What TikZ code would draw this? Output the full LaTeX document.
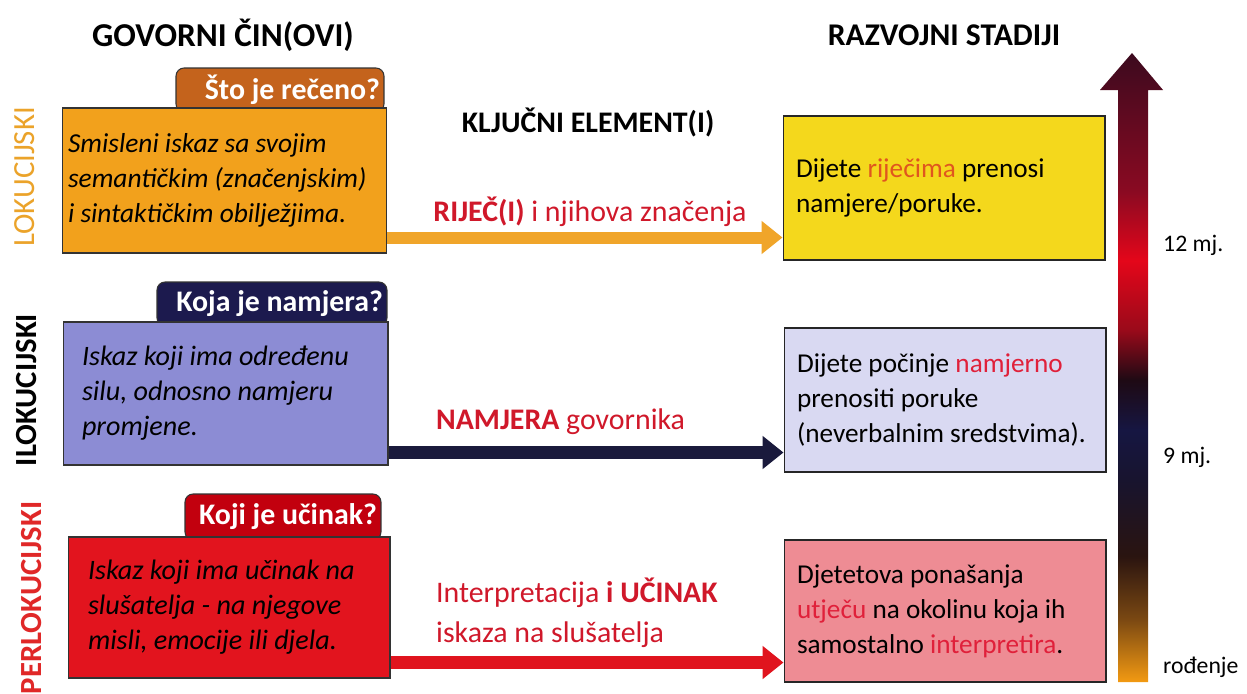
\documentclass[tikz,border=0pt]{standalone}
\usepackage{fontspec}
\setmainfont{Carlito}
\usepackage{xcolor}
\usepackage{tikz}
\usetikzlibrary{arrows.meta, positioning, calc}
\definecolor{lokorange}{HTML}{F2A11C}
\definecolor{loktab}{HTML}{C4631C}
\definecolor{loklabel}{HTML}{EBA32A}
\definecolor{ilokpurple}{HTML}{8C8CD4}
\definecolor{iloktab}{HTML}{1C1A4E}
\definecolor{perlokred}{HTML}{E2141E}
\definecolor{perloktab}{HTML}{C2000E}
\definecolor{perloklabel}{HTML}{E02828}
\definecolor{stageyellow}{HTML}{F4D81C}
\definecolor{stagelilac}{HTML}{D9D9F2}
\definecolor{stagepink}{HTML}{EE8C94}
\definecolor{keyred}{HTML}{D0182A}
\definecolor{wordorange}{HTML}{E0561E}
\definecolor{wordred}{HTML}{E0203A}
\definecolor{arrorange}{HTML}{F0A52A}
\definecolor{arrnavy}{HTML}{1A1A3C}
\definecolor{arrred}{HTML}{E0141E}
% colours of the age scale
\definecolor{agebottom}{HTML}{F39A12}
\definecolor{agebrown}{HTML}{7A4812}
\definecolor{agedarkbrown}{HTML}{2A1410}
\definecolor{agenight}{HTML}{18142E}
\definecolor{agenavy}{HTML}{161642}
\definecolor{ageblack}{HTML}{1E0A14}
\definecolor{agedeepred}{HTML}{9A0A1A}
\definecolor{agered}{HTML}{E4061A}
\definecolor{agewine}{HTML}{8A0A22}
\definecolor{agetop}{HTML}{3C0A1E}
\pgfdeclareverticalshading{stadiji}{100bp}{%
  color(0bp)=(agebottom); color(25bp)=(agebottom); color(30bp)=(agebrown);
  color(35bp)=(agedarkbrown); color(41bp)=(agenight); color(45bp)=(agenavy);
  color(49bp)=(ageblack); color(53bp)=(agedeepred); color(58.5bp)=(agered);
  color(64bp)=(agewine); color(75bp)=(agetop); color(100bp)=(agetop)}
\tikzstyle{heading} = [font=\fontsize{19}{22}\selectfont\bfseries]
\tikzstyle{sidelabel} = [rotate=90, font=\fontsize{17.5}{20}\selectfont]
\tikzstyle{acttab} = [rectangle, rounded corners=0.16cm, draw=black!80, line width=0.6pt, text=white, align=flush right, inner xsep=0.08cm, font=\fontsize{17}{20}\selectfont\bfseries]
\tikzstyle{actbox} = [rectangle, draw=black!80, line width=0.6pt, align=flush left, font=\fontsize{16}{20}\selectfont\itshape]
\tikzstyle{stagebox} = [rectangle, draw=black!85, line width=0.6pt, align=flush left, minimum width=6.44cm, text width=5.92cm, inner xsep=0.26cm, font=\fontsize{15.5}{20}\selectfont]
\tikzstyle{keylabel} = [text=keyred, font=\fontsize{17}{22.5}\selectfont]
\tikzstyle{keyarrow} = [line width=0.26cm, -{Triangle[length=0.42cm,width=0.64cm]}]
\tikzstyle{age} = [anchor=west, font=\fontsize{13.5}{16}\selectfont]

\begin{document}
\begin{tikzpicture}[x=0.02cm, y=-0.02cm]
    \clip (0,0) rectangle (1247,693);
    \fill[white] (0,0) rectangle (1247,693);

    % Headings
    \node[heading] (govor) at (223,35) {GOVORNI ČIN(OVI)};
    \node[heading, font=\fontsize{18}{21}\selectfont\bfseries] (razvoj) at (944,35) {RAZVOJNI STADIJI};
    \node[heading, font=\fontsize{17}{20}\selectfont\bfseries] (kljuc) at (588,122) {KLJUČNI ELEMENT(I)};

    % Speech acts
    \node[acttab, fill=loktab, text width=4.0cm, minimum height=0.88cm] (loktab) at (280,90) {Što je rečeno?};
    \node[actbox, fill=lokorange, text width=6.26cm, inner xsep=0.12cm, minimum height=2.9cm, font=\fontsize{15.6}{20}\selectfont\itshape] (lok) at (224.5,180.5)
        {Smisleni iskaz sa svojim\\semantičkim (značenjskim)\\i sintaktičkim obilježjima.};
    \node[acttab, fill=iloktab, text width=4.44cm, minimum height=0.88cm] (iloktab) at (272,304) {Koja je namjera?};
    \node[actbox, fill=ilokpurple, text width=5.74cm, inner xsep=0.38cm, minimum height=2.86cm] (ilok) at (225.5,393.5)
        {Iskaz koji ima određenu\\silu, odnosno namjeru\\promjene.};
    \node[acttab, fill=perloktab, text width=3.76cm, minimum height=0.92cm] (perloktab) at (283,517) {Koji je učinak?};
    \node[actbox, fill=perlokred, text width=5.64cm, inner xsep=0.4cm, minimum height=2.82cm] (perlok) at (229,607.5)
        {Iskaz koji ima učinak na\\slušatelja - na njegove\\misli, emocije ili djela.};

    % Side labels
    \node[sidelabel, text=loklabel] (loklab) at (25,177) {LOKUCIJSKI};
    \node[sidelabel, font=\fontsize{17.5}{20}\selectfont\bfseries] (iloklab) at (27,390) {ILOKUCIJSKI};
    \node[sidelabel, text=perloklabel, font=\fontsize{17.5}{20}\selectfont\bfseries] (perloklab) at (32,598) {PERLOKUCIJSKI};

    % Developmental stages
    \node[stagebox, fill=stageyellow, minimum height=2.88cm] (yellow) at (944,188)
        {Dijete \textcolor{wordorange}{riječima} prenosi\\namjere/poruke.};
    \node[stagebox, fill=stagelilac, minimum height=2.88cm] (lilac) at (945,400)
        {Dijete počinje \textcolor{wordred}{namjerno}\\prenositi poruke\\(neverbalnim sredstvima).};
    \node[stagebox, fill=stagepink, minimum height=2.84cm] (pink) at (945,611)
        {Djetetova ponašanja\\\textcolor{wordred}{utječu} na okolinu koja ih\\samostalno \textcolor{wordred}{interpretira}.};

    % Key elements
    \coordinate (lokout) at ($(lok.south east)+(0,-16)$);
    \coordinate (ilokout) at ($(ilok.south east)+(0,-13)$);
    \coordinate (perlokout) at ($(perlok.south east)+(0,-16)$);
    \draw[keyarrow, draw=arrorange, fill=arrorange, line width=0.24cm] (lokout) -- (lokout -| yellow.west);
    \draw[keyarrow, draw=arrnavy, fill=arrnavy] (ilokout) -- (ilokout -| lilac.west);
    \draw[keyarrow, draw=arrred, fill=arrred] (perlokout) -- (perlokout -| pink.west);
    \node[keylabel] (rijec) at (590,212) {\textbf{RIJEČ(I)} i njihova značenja};
    \node[keylabel, anchor=west] (namjera) at (430,422) {\textbf{NAMJERA} govornika};
    \node[keylabel, anchor=west, align=left] (ucinak) at (430,613) {Interpretacija \textbf{i UČINAK}\\iskaza na slušatelja};

    % Age scale
    \shade[shading=stadiji] (1118,682) -- (1118,90) -- (1100,90) -- (1132,53) -- (1163,90) -- (1148,90) -- (1148,682) -- cycle;
    \node[age] (mj12) at (1157,245) {12 mj.};
    \node[age] (mj9) at (1157,457) {9 mj.};
    \node[age] (rodenje) at (1157,667) {rođenje};
\end{tikzpicture}
\end{document}
